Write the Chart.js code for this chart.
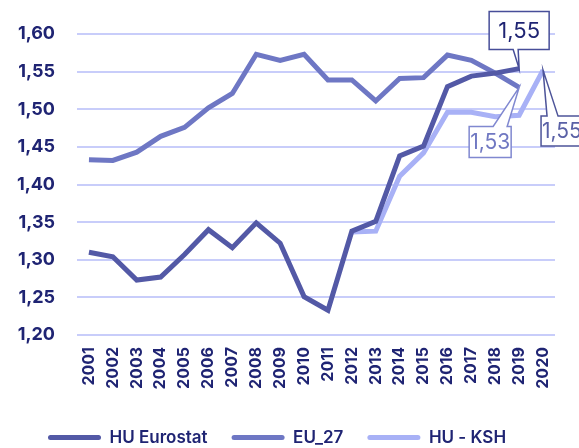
<!DOCTYPE html>
<html>
<head>
<meta charset="utf-8">
<script src="https://cdn.jsdelivr.net/npm/chart.js@4/dist/chart.umd.min.js"></script>
<style>
  html, body { margin: 0; padding: 0; background: #fff; }
  canvas { display: block; }
</style>
</head>
<body>
<canvas id="fertility" width="579" height="448"></canvas>
<script>
const years = ['2001', '2002', '2003', '2004', '2005', '2006', '2007', '2008', '2009', '2010',
  '2011', '2012', '2013', '2014', '2015', '2016', '2017', '2018', '2019', '2020'];
const huEurostat = [1.310, 1.304, 1.273, 1.277, 1.307, 1.340, 1.316, 1.349, 1.322, 1.251,
  1.233, 1.338, 1.351, 1.438, 1.451, 1.530, 1.544, 1.548, 1.554, null];
const eu27 = [1.433, 1.432, 1.443, 1.464, 1.476, 1.502, 1.521, 1.573, 1.565, 1.573,
  1.539, 1.539, 1.511, 1.541, 1.542, 1.572, 1.565, 1.548, 1.529, null];
const huKsh = [null, null, null, null, null, null, null, null, null, null,
  null, 1.337, 1.338, 1.411, 1.442, 1.496, 1.496, 1.490, 1.492, 1.552];
const yTicks = [1.20, 1.25, 1.30, 1.35, 1.40, 1.45, 1.50, 1.55, 1.60];

const navy = '#1f2473';
const fmt = v => v.toFixed(2).replace('.', ',');

// callout boxes on the last points (offsets relative to the point)
const callouts = [
  { dataset: 0, index: 18, box: [-30, -57, 60, 38], tail: [-6, -1], side: 'bottom', stroke: '#474e99', color: navy, size: 22, align: 'center' },
  { dataset: 1, index: 18, box: [-50, 39, 42, 31], tail: [-26, -12], side: 'top', stroke: '#8088d0', color: '#7078c2', size: 21, align: 'center' },
  { dataset: 2, index: 19, box: [-2, 46, 60, 30], tail: [4, 15], side: 'top', stroke: '#4d5499', color: '#5a61a6', size: 21, align: 'left' }
];

const calloutPlugin = {
  id: 'callouts',
  afterDatasetsDraw(chart) {
    const { ctx, scales: { x, y } } = chart;
    callouts.forEach(c => {
      const v = chart.data.datasets[c.dataset].data[c.index];
      const px = x.getPixelForValue(c.index);
      const py = y.getPixelForValue(v);
      const [dx, dy, w, h] = c.box;
      const l = px + dx, t = py + dy, r = l + w, b = t + h;
      ctx.save();
      ctx.beginPath();
      ctx.moveTo(l, t);
      if (c.side === 'top') {
        ctx.lineTo(px + c.tail[0], t);
        ctx.lineTo(px, py);
        ctx.lineTo(px + c.tail[1], t);
      }
      ctx.lineTo(r, t);
      ctx.lineTo(r, b);
      if (c.side === 'bottom') {
        ctx.lineTo(px + c.tail[1], b);
        ctx.lineTo(px, py);
        ctx.lineTo(px + c.tail[0], b);
      }
      ctx.lineTo(l, b);
      ctx.closePath();
      ctx.fillStyle = '#fff';
      ctx.fill();
      ctx.lineWidth = 1.5;
      ctx.strokeStyle = c.stroke;
      ctx.stroke();
      ctx.fillStyle = c.color;
      ctx.font = '400 ' + c.size + 'px Inter';
      ctx.textBaseline = 'middle';
      ctx.textAlign = c.align;
      const tx = c.align === 'left' ? l + 1 : l + w / 2;
      ctx.fillText(fmt(v), tx, t + h / 2 + 1);
      ctx.restore();
    });
  }
};

// nudge the legend to where it sits in the original
const legendNudge = {
  id: 'legendNudge',
  afterLayout(chart) {
    chart.legend.left += 24;
    chart.legend.top += 8;
  }
};

Chart.defaults.font.family = 'Inter';
Chart.defaults.color = navy;

const ctx = document.getElementById('fertility').getContext('2d');
new Chart(ctx, {
  type: 'line',
  data: {
    labels: years,
    datasets: [
      { label: 'HU Eurostat', data: huEurostat, borderColor: '#5359a6', backgroundColor: '#5359a6' },
      { label: 'EU_27', data: eu27, borderColor: '#6e77c4', backgroundColor: '#6e77c4' },
      { label: 'HU - KSH', data: huKsh, borderColor: '#a8b1f6', backgroundColor: '#a8b1f6' }
    ]
  },
  options: {
    responsive: false,
    animation: false,
    layout: { padding: { top: 34, right: 24, bottom: 0, left: 0 } },
    elements: {
      line: { borderWidth: 5, tension: 0 },
      point: { radius: 0 }
    },
    scales: {
      x: {
        offset: true,
        grid: { display: false, drawTicks: false },
        border: { display: false },
        ticks: { autoSkip: false, minRotation: 90, maxRotation: 90, padding: 12, color: navy, font: { size: 16, weight: '700' } },
        afterFit: s => { s.height = 62; }
      },
      y: {
        min: 1.2,
        max: 1.6,
        grid: { color: '#c8cdfa', lineWidth: 2, drawTicks: false },
        border: { display: false },
        afterBuildTicks: s => { s.ticks = yTicks.map(v => ({ value: v })); },
        ticks: { padding: 22, color: navy, font: { size: 18, weight: '700' }, callback: v => fmt(v) },
        afterFit: s => { s.width = 77; }
      }
    },
    plugins: {
      legend: {
        position: 'bottom',
        align: 'start',
        labels: {
          boxWidth: 53,
          boxHeight: 5,
          padding: 24,
          useBorderRadius: true,
          borderRadius: 2.5,
          color: navy,
          font: { size: 17, weight: '600' },
          generateLabels: chart => Chart.defaults.plugins.legend.labels.generateLabels(chart)
            .map(item => Object.assign(item, { lineWidth: 0 }))
        }
      },
      tooltip: { enabled: false }
    }
  },
  plugins: [calloutPlugin, legendNudge]
});
</script>
</body>
</html>
